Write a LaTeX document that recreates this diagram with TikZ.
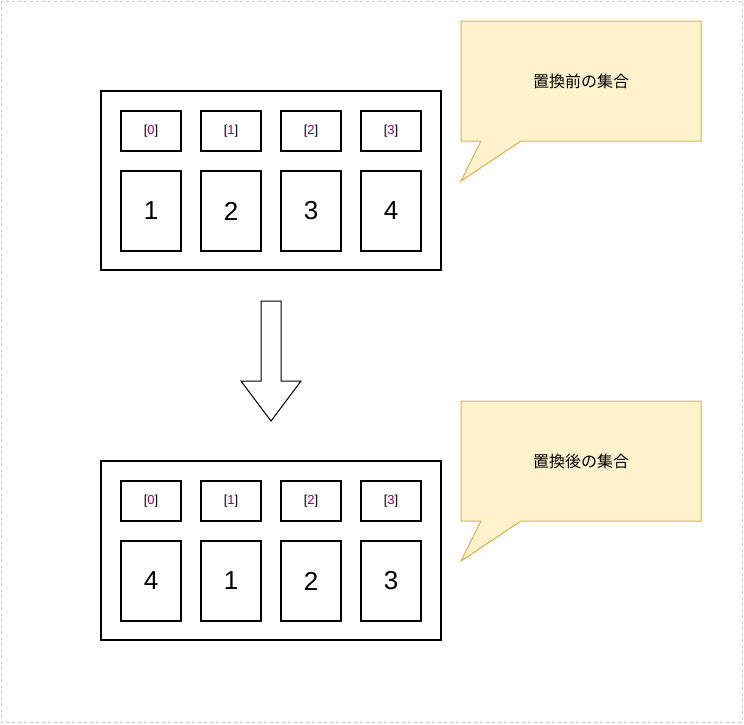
\documentclass[tikz,border=0pt]{standalone}
\usepackage{fontspec}
\setmainfont{Liberation Sans}
\newfontfamily\cjk{Noto Sans CJK JP}
\definecolor{idx}{RGB}{153,0,76}
\definecolor{cfill}{RGB}{255,242,204}
\definecolor{cdraw}{RGB}{214,182,86}
\begin{document}
\begin{tikzpicture}[x=1pt,y=-1pt,line width=1.3pt,
  cell/.style={draw,minimum width=60pt,minimum height=40pt,inner sep=0pt,font=\fontsize{13}{13}\selectfont},
  big/.style={draw,minimum width=60pt,minimum height=80pt,inner sep=0pt,font=\fontsize{26}{26}\selectfont},
  outer/.style={draw,minimum width=340pt,minimum height=179pt,inner sep=0pt},
  call/.style={draw=cdraw,fill=cfill,line width=1pt,line join=miter}]
\useasboundingbox (0,0) rectangle (744,724);
\draw[gray!40,dashed,line width=1pt] (1,1) rectangle (742,722);
\node[outer] (o1) at (271,180.5) {};
\node[outer] (o2) at (271,550.5) {};
\foreach \i/\x in {0/151,1/231,2/311,3/391}{
  \node[cell] (a\i) at (\x,131) {[\textcolor{idx}{\i}]};
  \node[cell] (b\i) at (\x,501) {[\textcolor{idx}{\i}]};
}
\foreach \i/\x/\v in {0/151/1,1/231/2,2/311/3,3/391/4}{\node[big] (A\i) at (\x,211) {\v};}
\foreach \i/\x/\v in {0/151/4,1/231/1,2/311/2,3/391/3}{\node[big] (B\i) at (\x,581) {\v};}
\draw[line width=1pt,line join=miter] (261,301) -- (281,301) -- (281,381) -- (301,381) -- (271,421) -- (241,381) -- (261,381) -- cycle;
\draw[call] (461,21) -- (701,21) -- (701,141) -- (521,141) -- (461,181) -- (481,141) -- (461,141) -- cycle;
\node[font=\cjk\fontsize{16}{16}\selectfont] (t1) at (581,81) {置換前の集合};
\draw[call] (461,401) -- (701,401) -- (701,521) -- (521,521) -- (461,561) -- (481,521) -- (461,521) -- cycle;
\node[font=\cjk\fontsize{16}{16}\selectfont] (t2) at (581,461) {置換後の集合};
\end{tikzpicture}
\end{document}
